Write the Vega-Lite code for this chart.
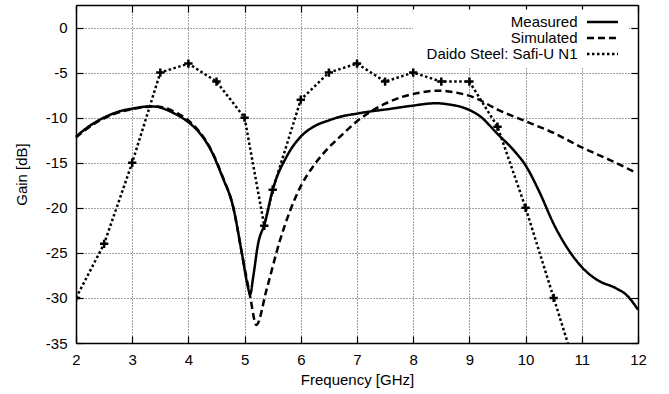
{
  "$schema": "https://vega.github.io/schema/vega-lite/v6.json",
  "width": 562,
  "height": 338,
  "autosize": {"type": "none"},
  "padding": {"left": 76, "top": 5, "right": 31, "bottom": 51},
  "background": "white",
  "config": {
    "font": "Liberation Sans",
    "view": {"stroke": null},
    "axis": {
      "domainColor": "black",
      "domainWidth": 1.5,
      "tickColor": "black",
      "tickWidth": 1.2,
      "tickSize": -7,
      "labelFontSize": 15,
      "labelColor": "black",
      "labelFont": "Liberation Sans",
      "labelFlush": false,
      "labelOverlap": false,
      "labelBound": false,
      "titleFontSize": 15,
      "titleFont": "Liberation Sans",
      "titleFontWeight": "normal",
      "titleColor": "black",
      "gridColor": "black",
      "gridDash": [1, 2],
      "gridOpacity": 0.75,
      "gridWidth": 1
    }
  },
  "datasets": {
    "curves": [
      {"f": 2.0, "g": -12.1, "series": "Measured"},
      {"f": 2.2, "g": -11.1, "series": "Measured"},
      {"f": 2.4, "g": -10.3, "series": "Measured"},
      {"f": 2.6, "g": -9.7, "series": "Measured"},
      {"f": 2.8, "g": -9.25, "series": "Measured"},
      {"f": 3.0, "g": -9.0, "series": "Measured"},
      {"f": 3.2, "g": -8.8, "series": "Measured"},
      {"f": 3.3, "g": -8.75, "series": "Measured"},
      {"f": 3.45, "g": -8.8, "series": "Measured"},
      {"f": 3.6, "g": -9.1, "series": "Measured"},
      {"f": 3.8, "g": -9.7, "series": "Measured"},
      {"f": 4.0, "g": -10.5, "series": "Measured"},
      {"f": 4.2, "g": -11.7, "series": "Measured"},
      {"f": 4.4, "g": -13.6, "series": "Measured"},
      {"f": 4.6, "g": -16.5, "series": "Measured"},
      {"f": 4.8, "g": -20.0, "series": "Measured"},
      {"f": 4.95, "g": -25.0, "series": "Measured"},
      {"f": 5.05, "g": -28.5, "series": "Measured"},
      {"f": 5.1, "g": -29.6, "series": "Measured"},
      {"f": 5.15, "g": -27.8, "series": "Measured"},
      {"f": 5.24, "g": -24.0, "series": "Measured"},
      {"f": 5.36, "g": -21.7, "series": "Measured"},
      {"f": 5.5, "g": -18.0, "series": "Measured"},
      {"f": 5.75, "g": -14.3, "series": "Measured"},
      {"f": 6.0, "g": -12.1, "series": "Measured"},
      {"f": 6.2, "g": -11.1, "series": "Measured"},
      {"f": 6.5, "g": -10.3, "series": "Measured"},
      {"f": 6.7, "g": -9.9, "series": "Measured"},
      {"f": 7.0, "g": -9.55, "series": "Measured"},
      {"f": 7.25, "g": -9.3, "series": "Measured"},
      {"f": 7.5, "g": -9.1, "series": "Measured"},
      {"f": 7.95, "g": -8.7, "series": "Measured"},
      {"f": 8.4, "g": -8.4, "series": "Measured"},
      {"f": 8.65, "g": -8.55, "series": "Measured"},
      {"f": 8.9, "g": -8.9, "series": "Measured"},
      {"f": 9.2, "g": -9.9, "series": "Measured"},
      {"f": 9.5, "g": -11.8, "series": "Measured"},
      {"f": 9.8, "g": -13.7, "series": "Measured"},
      {"f": 10.0, "g": -15.3, "series": "Measured"},
      {"f": 10.25, "g": -18.3, "series": "Measured"},
      {"f": 10.5, "g": -21.8, "series": "Measured"},
      {"f": 10.8, "g": -25.0, "series": "Measured"},
      {"f": 11.05, "g": -26.9, "series": "Measured"},
      {"f": 11.3, "g": -28.1, "series": "Measured"},
      {"f": 11.6, "g": -28.9, "series": "Measured"},
      {"f": 11.8, "g": -29.7, "series": "Measured"},
      {"f": 12.0, "g": -31.3, "series": "Measured"},
      {"f": 2.0, "g": -12.2, "series": "Simulated"},
      {"f": 2.2, "g": -11.2, "series": "Simulated"},
      {"f": 2.4, "g": -10.4, "series": "Simulated"},
      {"f": 2.6, "g": -9.8, "series": "Simulated"},
      {"f": 2.8, "g": -9.35, "series": "Simulated"},
      {"f": 3.0, "g": -9.05, "series": "Simulated"},
      {"f": 3.2, "g": -8.85, "series": "Simulated"},
      {"f": 3.4, "g": -8.75, "series": "Simulated"},
      {"f": 3.6, "g": -8.95, "series": "Simulated"},
      {"f": 3.8, "g": -9.5, "series": "Simulated"},
      {"f": 4.0, "g": -10.3, "series": "Simulated"},
      {"f": 4.2, "g": -11.6, "series": "Simulated"},
      {"f": 4.4, "g": -13.5, "series": "Simulated"},
      {"f": 4.6, "g": -16.4, "series": "Simulated"},
      {"f": 4.8, "g": -20.0, "series": "Simulated"},
      {"f": 4.95, "g": -25.0, "series": "Simulated"},
      {"f": 5.05, "g": -28.3, "series": "Simulated"},
      {"f": 5.1, "g": -29.9, "series": "Simulated"},
      {"f": 5.21, "g": -33.0, "series": "Simulated"},
      {"f": 5.39, "g": -29.1, "series": "Simulated"},
      {"f": 5.63, "g": -23.6, "series": "Simulated"},
      {"f": 6.0, "g": -17.6, "series": "Simulated"},
      {"f": 6.22, "g": -15.4, "series": "Simulated"},
      {"f": 6.5, "g": -13.3, "series": "Simulated"},
      {"f": 6.7, "g": -12.1, "series": "Simulated"},
      {"f": 7.0, "g": -10.4, "series": "Simulated"},
      {"f": 7.25, "g": -9.3, "series": "Simulated"},
      {"f": 7.5, "g": -8.45, "series": "Simulated"},
      {"f": 7.8, "g": -7.7, "series": "Simulated"},
      {"f": 8.06, "g": -7.3, "series": "Simulated"},
      {"f": 8.4, "g": -7.0, "series": "Simulated"},
      {"f": 8.7, "g": -7.15, "series": "Simulated"},
      {"f": 9.1, "g": -7.8, "series": "Simulated"},
      {"f": 9.5, "g": -9.1, "series": "Simulated"},
      {"f": 10.0, "g": -10.4, "series": "Simulated"},
      {"f": 10.5, "g": -11.7, "series": "Simulated"},
      {"f": 11.0, "g": -13.3, "series": "Simulated"},
      {"f": 11.5, "g": -14.7, "series": "Simulated"},
      {"f": 11.93, "g": -16.0, "series": "Simulated"}
    ],
    "daido": [
      {"f": 2.0, "g": -30, "series": "Daido Steel: Safi-U N1"},
      {"f": 2.5, "g": -24, "series": "Daido Steel: Safi-U N1"},
      {"f": 3.0, "g": -15, "series": "Daido Steel: Safi-U N1"},
      {"f": 3.5, "g": -5, "series": "Daido Steel: Safi-U N1"},
      {"f": 4.0, "g": -4, "series": "Daido Steel: Safi-U N1"},
      {"f": 4.5, "g": -6, "series": "Daido Steel: Safi-U N1"},
      {"f": 5.0, "g": -10, "series": "Daido Steel: Safi-U N1"},
      {"f": 5.35, "g": -22, "series": "Daido Steel: Safi-U N1"},
      {"f": 5.5, "g": -18, "series": "Daido Steel: Safi-U N1"},
      {"f": 6.0, "g": -8, "series": "Daido Steel: Safi-U N1"},
      {"f": 6.5, "g": -5, "series": "Daido Steel: Safi-U N1"},
      {"f": 7.0, "g": -4, "series": "Daido Steel: Safi-U N1"},
      {"f": 7.5, "g": -6, "series": "Daido Steel: Safi-U N1"},
      {"f": 8.0, "g": -5, "series": "Daido Steel: Safi-U N1"},
      {"f": 8.5, "g": -6, "series": "Daido Steel: Safi-U N1"},
      {"f": 9.0, "g": -6, "series": "Daido Steel: Safi-U N1"},
      {"f": 9.5, "g": -11, "series": "Daido Steel: Safi-U N1"},
      {"f": 10.0, "g": -20, "series": "Daido Steel: Safi-U N1"},
      {"f": 10.5, "g": -30, "series": "Daido Steel: Safi-U N1"},
      {"f": 11.0, "g": -40, "series": "Daido Steel: Safi-U N1"}
    ]
  },
  "layer": [
    {
      "data": {"name": "curves"},
      "mark": {"type": "line", "interpolate": "monotone", "strokeWidth": 2.5, "color": "black", "strokeCap": "butt"},
      "encoding": {
        "x": {
          "field": "f", "type": "quantitative",
          "scale": {"domain": [2, 12], "nice": false, "zero": false},
          "axis": {"orient": "bottom", "title": "Frequency [GHz]", "values": [2, 3, 4, 5, 6, 7, 8, 9, 10, 11, 12], "grid": true, "labelPadding": 16, "titlePadding": 5}
        },
        "y": {
          "field": "g", "type": "quantitative",
          "scale": {"domain": [-35, 2.5], "nice": false, "zero": false},
          "axis": {"orient": "left", "title": "Gain [dB]", "values": [-35, -30, -25, -20, -15, -10, -5, 0], "grid": true, "labelPadding": 16, "titlePadding": 16, "labelExpr": "'' + datum.value"}
        },
        "strokeDash": {
          "field": "series", "type": "nominal",
          "scale": {"domain": ["Measured", "Simulated", "Daido Steel: Safi-U N1"], "range": [[1, 0], [7, 4], [2.5, 2.5]]},
          "legend": {"title": null, "orient": "none", "legendX": 337, "legendY": 4.5, "symbolType": "M-3,0H3", "symbolSize": 107, "symbolStrokeWidth": 2.5, "symbolStrokeColor": "black", "symbolFillColor": "transparent", "labelFontSize": 15, "labelFont": "Liberation Sans", "labelColor": "black", "labelAlign": "right", "labelOffset": -32.5, "symbolOffset": 177, "rowPadding": 0, "fillColor": "white", "padding": 5}
        }
      }
    },
    {
      "data": {"name": "daido"},
      "mark": {"type": "line", "strokeWidth": 2.5, "color": "black", "clip": true, "strokeCap": "butt"},
      "encoding": {
        "x": {
          "field": "f", "type": "quantitative",
          "axis": {"orient": "top", "title": null, "labels": false, "grid": false, "values": [2, 3, 4, 5, 6, 7, 8, 9, 10, 11, 12]}
        },
        "y": {
          "field": "g", "type": "quantitative",
          "axis": {"orient": "right", "title": null, "labels": false, "grid": false, "values": [-35, -30, -25, -20, -15, -10, -5, 0]}
        },
        "strokeDash": {
          "field": "series", "type": "nominal",
          "legend": {"title": null, "orient": "none", "legendX": 337, "legendY": 4.5, "symbolType": "M-3,0H3", "symbolSize": 107, "symbolStrokeWidth": 2.5, "symbolStrokeColor": "black", "symbolFillColor": "transparent", "labelFontSize": 15, "labelFont": "Liberation Sans", "labelColor": "black", "labelAlign": "right", "labelOffset": -32.5, "symbolOffset": 177, "rowPadding": 0, "fillColor": "white", "padding": 5}
        }
      }
    },
    {
      "data": {"name": "daido"},
      "mark": {"type": "point", "shape": "M-1,0H1M0,-1V1", "size": 70, "filled": false, "stroke": "black", "strokeWidth": 2.5, "opacity": 1, "clip": true},
      "encoding": {
        "x": {"field": "f", "type": "quantitative", "axis": null},
        "y": {"field": "g", "type": "quantitative", "axis": null}
      }
    }
  ]
}
